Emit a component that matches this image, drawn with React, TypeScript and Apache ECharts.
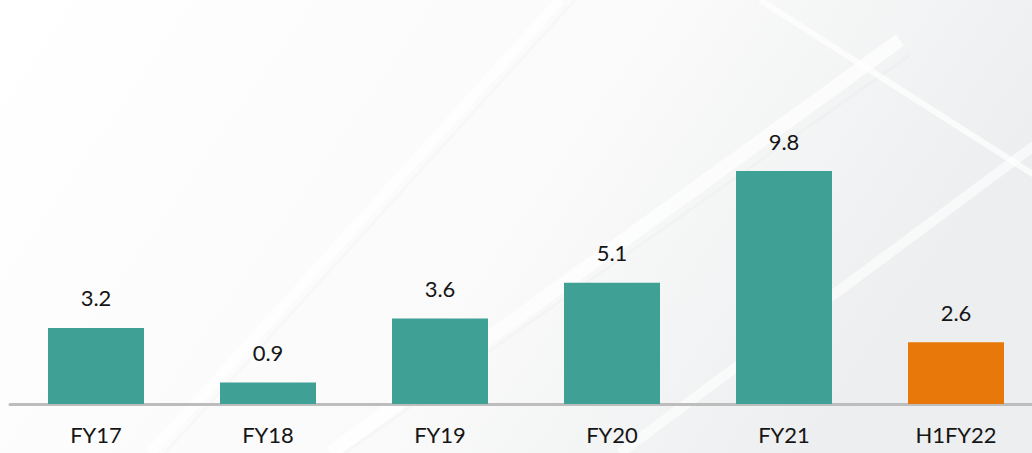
import React, { useEffect, useRef } from "react";
import * as echarts from "echarts";

const categories = ["FY17", "FY18", "FY19", "FY20", "FY21", "H1FY22"];
const values = [3.2, 0.9, 3.6, 5.1, 9.8, 2.6];
const highlightCategory = "H1FY22";

const TEAL = "#3fa196";
const ORANGE = "#e9780b";

export default function App() {
  const ref = useRef<HTMLDivElement>(null);
  useEffect(() => {
    if (!ref.current) return;
    const chart = echarts.init(ref.current, undefined, { renderer: "svg" });
    chart.setOption({
      animation: false,
      backgroundColor: {
        type: "linear",
        x: 0,
        y: 0,
        x2: 1,
        y2: 0.3,
        colorStops: [
          { offset: 0, color: "#ffffff" },
          { offset: 0.6, color: "#fafafa" },
          { offset: 1, color: "#eceeef" },
        ],
      },
      graphic: [
        {
          type: "group",
          silent: true,
          z: -10,
          children: [
            { type: "line", shape: { x1: 150, y1: 453, x2: 560, y2: 0 }, style: { stroke: "rgba(255,255,255,0.7)", lineWidth: 10 } },
            { type: "line", shape: { x1: 165, y1: 453, x2: 575, y2: 0 }, style: { stroke: "rgba(0,0,0,0.015)", lineWidth: 3 } },
            { type: "line", shape: { x1: 330, y1: 453, x2: 900, y2: 40 }, style: { stroke: "rgba(255,255,255,0.7)", lineWidth: 14 } },
            { type: "line", shape: { x1: 345, y1: 453, x2: 910, y2: 55 }, style: { stroke: "rgba(0,0,0,0.015)", lineWidth: 3 } },
            { type: "line", shape: { x1: 620, y1: 453, x2: 1042, y2: 140 }, style: { stroke: "rgba(255,255,255,0.6)", lineWidth: 10 } },
            { type: "line", shape: { x1: 760, y1: 0, x2: 1042, y2: 180 }, style: { stroke: "rgba(255,255,255,0.7)", lineWidth: 6 } },
          ],
        },
      ],
      grid: { left: 10, top: 0, right: 0, bottom: 49, containLabel: false },
      xAxis: {
        type: "category",
        data: categories,
        axisLine: { show: true, lineStyle: { color: "#bdbdbd", width: 3 } },
        axisTick: { show: false },
        axisLabel: {
          color: "#151515",
          fontSize: 22,
          fontFamily: "Lato",
          margin: 19,
        },
      },
      yAxis: {
        type: "value",
        min: 0,
        max: 17,
        show: false,
        splitLine: { show: false },
      },
      series: [
        {
          type: "bar",
          barWidth: 96,
          data: values.map((v, i) => ({
            value: v,
            itemStyle: { color: categories[i] === highlightCategory ? ORANGE : TEAL },
          })),
          label: {
            show: true,
            position: "top",
            distance: 19,
            color: "#151515",
            fontSize: 22,
            fontFamily: "Lato",
            formatter: (p: any) => p.value.toFixed(1),
          },
        },
      ],
    });
    return () => chart.dispose();
  }, []);
  return (
    <div style={{ position: "fixed", left: 0, top: 0, width: 1032, height: 453, overflow: "hidden" }}>
      <div ref={ref} style={{ width: 1042, height: 453 }} />
    </div>
  );
}
